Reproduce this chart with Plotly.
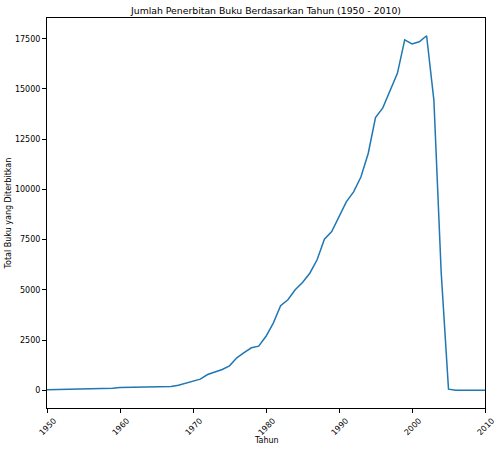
import plotly.graph_objects as go

years = list(range(1950, 2011))
books = [30, 35, 40, 60, 60, 70, 80, 85, 90, 110,
         140, 145, 130, 135, 150, 170, 185, 190, 260, 370,
         480, 560, 790, 925, 1040, 1220, 1620, 1880, 2120, 2200,
         2690, 3350, 4210, 4510, 5010, 5370, 5830, 6500, 7520, 7900,
         8640, 9380, 9880, 10620, 11790, 13580, 14060, 14880, 15780, 17440,
         17240, 17350, 17650, 14430, 5850, 60, 10, 5, 5, 5,
         5]

title = "Jumlah Penerbitan Buku Berdasarkan Tahun (1950 - 2010)"
xtitle = "Tahun"
ytitle = "Total Buku yang Diterbitkan"
xticks = [1950, 1960, 1970, 1980, 1990, 2000, 2010]
yticks = [0, 2500, 5000, 7500, 10000, 12500, 15000, 17500]

fig = go.Figure()
fig.add_trace(go.Scatter(x=years, y=books, mode="lines",
                         line=dict(color="#1f77b4", width=1.5)))

lo = min(books); hi = max(books); pad = (hi - lo) * 0.05

axis_common = dict(showline=True, linecolor="black", linewidth=1, mirror=True,
                   ticks="outside", ticklen=4, tickcolor="black", tickwidth=1,
                   showgrid=False, zeroline=False, automargin=False,
                   tickfont=dict(size=8, color="black"))

fig.update_layout(
    width=500, height=451,
    margin=dict(l=47, r=15, t=18, b=43),
    paper_bgcolor="white", plot_bgcolor="white",
    font=dict(family="DejaVu Sans", size=8, color="black"),
    showlegend=False,
    title=dict(text=title, x=0.532, xanchor="center", y=0.977, yanchor="middle",
               font=dict(size=9.3, color="black")),
    xaxis=dict(range=[1950, 2010], tickvals=xticks, ticktext=[str(t) for t in xticks],
               tickangle=-45, ticklabelshift=7, **axis_common),
    yaxis=dict(range=[lo - pad, hi + pad], tickvals=yticks, ticktext=[str(t) for t in yticks],
               **axis_common),
    annotations=[
        dict(text=xtitle, xref="paper", yref="paper", x=0.5, y=-0.0846,
             xanchor="center", yanchor="middle", showarrow=False,
             font=dict(size=8, color="black")),
        dict(text=ytitle, xref="paper", yref="paper", x=-0.0879, y=0.5,
             xanchor="center", yanchor="middle", textangle=-90, showarrow=False,
             font=dict(size=8, color="black")),
    ],
)

fig.write_html("out.html")
